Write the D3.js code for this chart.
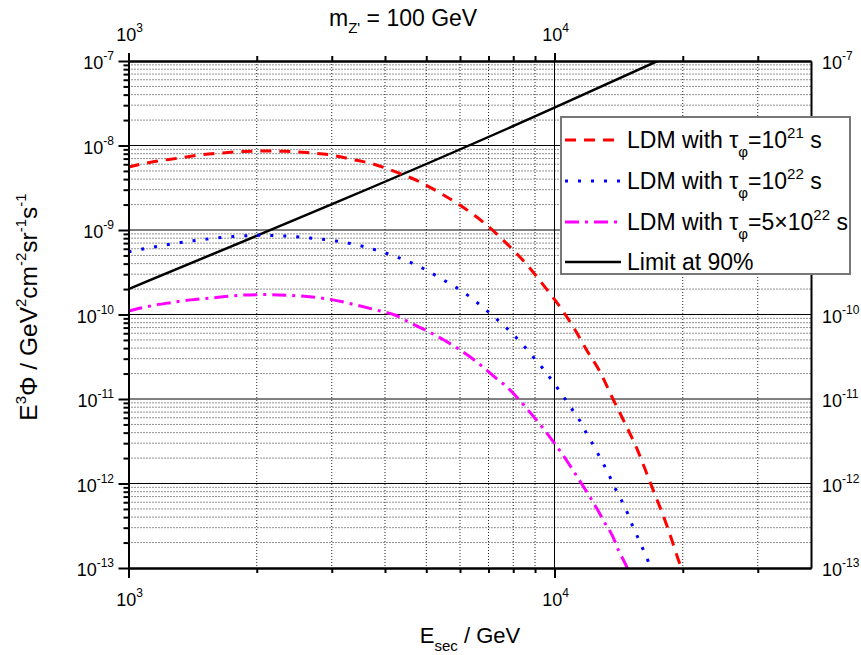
<!DOCTYPE html>
<html>
<head>
<meta charset="utf-8">
<script src="https://cdn.jsdelivr.net/npm/d3@7"></script>
<style>
  html, body { margin: 0; padding: 0; background: #fff; }
  svg { display: block; font-family: "Liberation Sans", Arial, sans-serif; }
</style>
</head>
<body>
<svg id="chart" width="861" height="655"></svg>
<script>
// ---------------- data ----------------
const xTickValues = [1e3, 1e4];
const yTickValues = [1e-7, 1e-8, 1e-9, 1e-10, 1e-11, 1e-12, 1e-13];
const xTickExp = ["3", "4"];
const yTickExp = ["-7", "-8", "-9", "-10", "-11", "-12", "-13"];
// right-hand labels that are not hidden behind the legend box
const yRightTickValues = [1e-7, 1e-10, 1e-11, 1e-12, 1e-13];
const yRightTickExp = ["-7", "-10", "-11", "-12", "-13"];

const redE = [1000, 1150, 1300, 1450, 1650, 1850, 2080, 2340, 2620, 2980, 3340, 3770, 4240, 4780, 5370, 6040, 6800, 7640, 8530, 9410, 10290, 11130, 11930, 12820, 13590, 14420, 15600, 16810, 18390, 19860, 20500];
const redV = [5.57e-9, 6.45e-9, 7.05e-9, 7.65e-9, 8.15e-9, 8.47e-9, 8.6e-9, 8.53e-9, 8.24e-9, 7.73e-9, 6.87e-9, 6.0e-9, 4.87e-9, 3.8e-9, 2.77e-9, 1.92e-9, 1.24e-9, 7.3e-10, 4.1e-10, 2.24e-10, 1.24e-10, 6.8e-11, 3.7e-11, 2.05e-11, 1.1e-11, 6.0e-12, 2.6e-12, 1.0e-12, 3.1e-13, 1.0e-13, 7e-14];

const blueE = [1000, 1146, 1324, 1525, 1758, 2023, 2331, 2690, 3100, 3570, 4120, 4740, 5460, 6290, 6760, 7240, 7745, 8340, 8840, 9370, 9900, 10390, 10930, 11450, 11900, 12380, 12860, 13360, 13800, 14300, 14800, 15230, 15730, 16230, 16710, 17200];
const blueV = [5.5e-10, 6.3e-10, 7.1e-10, 7.8e-10, 8.35e-10, 8.65e-10, 8.5e-10, 8.0e-10, 7.35e-10, 6.35e-10, 5.1e-10, 3.85e-10, 2.6e-10, 1.66e-10, 1.24e-10, 9.2e-11, 6.8e-11, 4.65e-11, 3.3e-11, 2.33e-11, 1.62e-11, 1.15e-11, 7.9e-12, 5.6e-12, 3.9e-12, 2.75e-12, 1.92e-12, 1.33e-12, 9.3e-13, 6.6e-13, 4.6e-13, 3.2e-13, 2.23e-13, 1.56e-13, 1.1e-13, 7.5e-14];

const magE = [1000, 1106, 1255, 1398, 1585, 1830, 2080, 2355, 2624, 2980, 3410, 3900, 4235, 4540, 4870, 5500, 6000, 6600, 7340, 7680, 8230, 8770, 9370, 9900, 10450, 10990, 11540, 12080, 12600, 13160, 13680, 14150, 14690, 15200];
const magV = [1.1e-10, 1.24e-10, 1.38e-10, 1.49e-10, 1.58e-10, 1.69e-10, 1.72e-10, 1.69e-10, 1.63e-10, 1.51e-10, 1.3e-10, 1.1e-10, 9.8e-11, 8.2e-11, 6.9e-11, 5.0e-11, 3.8e-11, 2.7e-11, 1.71e-11, 1.43e-11, 1.0e-11, 6.9e-12, 4.6e-12, 3.2e-12, 2.2e-12, 1.5e-12, 1.02e-12, 7.1e-13, 4.95e-13, 3.35e-13, 2.4e-13, 1.6e-13, 1.1e-13, 7.5e-14];

const limitE = [1000, 10000, 17450];
const limitV = [2.0e-10, 2.8e-8, 1.0e-7];

const legendLabels = [
  [{t: "LDM with "}, {t: "τ"}, {t: "φ", s: "sub"}, {t: "=10"}, {t: "21", s: "sup"}, {t: " s"}],
  [{t: "LDM with "}, {t: "τ"}, {t: "φ", s: "sub"}, {t: "=10"}, {t: "22", s: "sup"}, {t: " s"}],
  [{t: "LDM with "}, {t: "τ"}, {t: "φ", s: "sub"}, {t: "=5×10"}, {t: "22", s: "sup"}, {t: " s"}],
  [{t: "Limit at 90%"}]
];
const titleText = [{t: "m"}, {t: "Z'", s: "sub"}, {t: " = 100 GeV"}];
const xTitle = [{t: "E"}, {t: "sec", s: "sub"}, {t: " / GeV"}];
const yTitle = [{t: "E"}, {t: "3", s: "sup"}, {t: "Φ / GeV"}, {t: "2", s: "sup"}, {t: "cm"}, {t: "-2", s: "sup"}, {t: "sr"}, {t: "-1", s: "sup"}, {t: "s"}, {t: "-1", s: "sup"}];

// ---------------- layout ----------------
const svg = d3.select("#chart");
const L = 128.5, T = 61, R = 811, B = 568;

const x = d3.scaleLog().domain([1e3, 4e4]).range([L, R]);
const y = d3.scaleLog().domain([1e-13, 1e-7]).range([B, T]);

const xMinor = [];
[1e3, 1e4].forEach(d => { for (let k = 2; k <= 9; k++) if (d * k < 4e4) xMinor.push(d * k); });
const yMinor = [];
[1e-13, 1e-12, 1e-11, 1e-10, 1e-9, 1e-8].forEach(d => { for (let k = 2; k <= 9; k++) yMinor.push(d * k); });

// rich text helper
function rich(sel, segs, size, supSize, supShift, subShift) {
  let off = 0;
  segs.forEach(sg => {
    const ts = sel.append("tspan").text(sg.t);
    let target = 0;
    if (sg.s === "sup") { target = -supShift; ts.attr("font-size", supSize); }
    else if (sg.s === "sub") { target = subShift; ts.attr("font-size", supSize); }
    else ts.attr("font-size", size);
    ts.attr("dy", target - off);
    off = target;
  });
}

// ---------------- grid ----------------
const grid = svg.append("g");
grid.selectAll(".ymin").data(yMinor).join("line")
  .attr("x1", L).attr("x2", R).attr("y1", d => y(d)).attr("y2", d => y(d))
  .attr("stroke", "#222").attr("stroke-width", 1).attr("stroke-dasharray", "1,2");
grid.selectAll(".xmin").data(xMinor).join("line")
  .attr("y1", T).attr("y2", B).attr("x1", d => x(d)).attr("x2", d => x(d))
  .attr("stroke", "#222").attr("stroke-width", 1).attr("stroke-dasharray", "1,2");
grid.selectAll(".ymaj").data(yTickValues.slice(1, -1)).join("line")
  .attr("x1", L).attr("x2", R).attr("y1", d => y(d)).attr("y2", d => y(d))
  .attr("stroke", "#000").attr("stroke-width", 1);
grid.selectAll(".xmaj").data([1e4]).join("line")
  .attr("y1", T).attr("y2", B).attr("x1", d => x(d)).attr("x2", d => x(d))
  .attr("stroke", "#000").attr("stroke-width", 1);

// ---------------- curves ----------------
svg.append("clipPath").attr("id", "clip").append("rect")
  .attr("x", L).attr("y", T).attr("width", R - L).attr("height", B - T);

const line = d3.line().x(d => x(d[0])).y(d => y(d[1])).curve(d3.curveMonotoneX);
const series = [
  {E: limitE, V: limitV, color: "#000", w: 2.5, dash: null},
  {E: redE, V: redV, color: "#ff0000", w: 3, dash: "11,8"},
  {E: blueE, V: blueV, color: "#0000ff", w: 3, dash: "3,10"},
  {E: magE, V: magV, color: "#ff00ff", w: 3, dash: "14,6,3,6"}
];
const plot = svg.append("g").attr("clip-path", "url(#clip)");
series.forEach(s => {
  plot.append("path").datum(s.E.map((e, i) => [e, s.V[i]]))
    .attr("d", line).attr("fill", "none").attr("stroke", s.color)
    .attr("stroke-width", s.w).attr("stroke-dasharray", s.dash);
});

// ---------------- axes ----------------
function styleAxis(g) {
  g.select(".domain").attr("stroke", "#000").attr("stroke-width", 2);
  g.selectAll(".tick line").attr("stroke", "#000").attr("stroke-width", 2);
  g.selectAll(".tick text").remove();
}
svg.append("g").attr("transform", `translate(0,${B})`)
  .call(d3.axisBottom(x).tickValues(xMinor).tickSize(5).tickSizeOuter(0).tickFormat("")).call(styleAxis);
svg.append("g").attr("transform", `translate(0,${B})`)
  .call(d3.axisBottom(x).tickValues(xTickValues).tickSize(10).tickSizeOuter(0).tickFormat("")).call(styleAxis);
svg.append("g").attr("transform", `translate(0,${T})`)
  .call(d3.axisTop(x).tickValues(xMinor).tickSize(5).tickSizeOuter(0).tickFormat("")).call(styleAxis);
svg.append("g").attr("transform", `translate(0,${T})`)
  .call(d3.axisTop(x).tickValues(xTickValues).tickSize(8).tickSizeOuter(0).tickFormat("")).call(styleAxis);
svg.append("g").attr("transform", `translate(${L},0)`)
  .call(d3.axisLeft(y).tickValues(yMinor).tickSize(5).tickSizeOuter(0).tickFormat("")).call(styleAxis);
svg.append("g").attr("transform", `translate(${L},0)`)
  .call(d3.axisLeft(y).tickValues(yTickValues).tickSize(10).tickSizeOuter(0).tickFormat("")).call(styleAxis);
svg.append("g").attr("transform", `translate(${R},0)`)
  .call(d3.axisRight(y).tickValues(yTickValues).tickSize(0).tickSizeOuter(0).tickFormat("")).call(styleAxis);

// tick labels
const TS = 18, SS = 12;
xTickValues.forEach((v, i) => {
  const segs = [{t: "10"}, {t: xTickExp[i], s: "sup"}];
  rich(svg.append("text").attr("x", x(v) + 1).attr("y", 606).attr("text-anchor", "middle").attr("fill", "#000"), segs, TS, SS, 9, 0);
  rich(svg.append("text").attr("x", x(v) + 1).attr("y", 41).attr("text-anchor", "middle").attr("fill", "#000"), segs, TS, SS, 9, 0);
});
yTickValues.forEach((v, i) => {
  const segs = [{t: "10"}, {t: yTickExp[i], s: "sup"}];
  rich(svg.append("text").attr("x", 114).attr("y", y(v) + 8).attr("text-anchor", "end").attr("fill", "#000"), segs, TS, SS, 9, 0);
});
yRightTickValues.forEach((v, i) => {
  const segs = [{t: "10"}, {t: yRightTickExp[i], s: "sup"}];
  rich(svg.append("text").attr("x", 822).attr("y", y(v) + 8).attr("text-anchor", "start").attr("fill", "#000"), segs, TS, SS, 9, 0);
});

// titles
rich(svg.append("text").attr("x", 329).attr("y", 26).attr("fill", "#000"), titleText, 23, 15, 9, 7);
rich(svg.append("text").attr("x", 470).attr("y", 643).attr("text-anchor", "middle").attr("fill", "#000"), xTitle, 22, 15, 9, 8);
rich(svg.append("text").attr("transform", "translate(37,307) rotate(-90)").attr("text-anchor", "middle").attr("fill", "#000"), yTitle, 24.5, 15, 11, 8);

// ---------------- legend ----------------
const lg = svg.append("g");
lg.append("rect").attr("x", 561).attr("y", 117).attr("width", 289).attr("height", 157)
  .attr("fill", "#fff").attr("stroke", "#777").attr("stroke-width", 2);
const rowY = [140, 181, 222, 262];
series.slice(1).concat([series[0]]).forEach((s, i) => {
  lg.append("line").attr("x1", 565).attr("x2", 621).attr("y1", rowY[i]).attr("y2", rowY[i])
    .attr("stroke", s.color).attr("stroke-width", s.w).attr("stroke-dasharray", s.dash);
  rich(lg.append("text").attr("x", 627).attr("y", rowY[i] + 8).attr("fill", "#000"), legendLabels[i], 23, 15, 10, 9);
});
</script>
</body>
</html>
